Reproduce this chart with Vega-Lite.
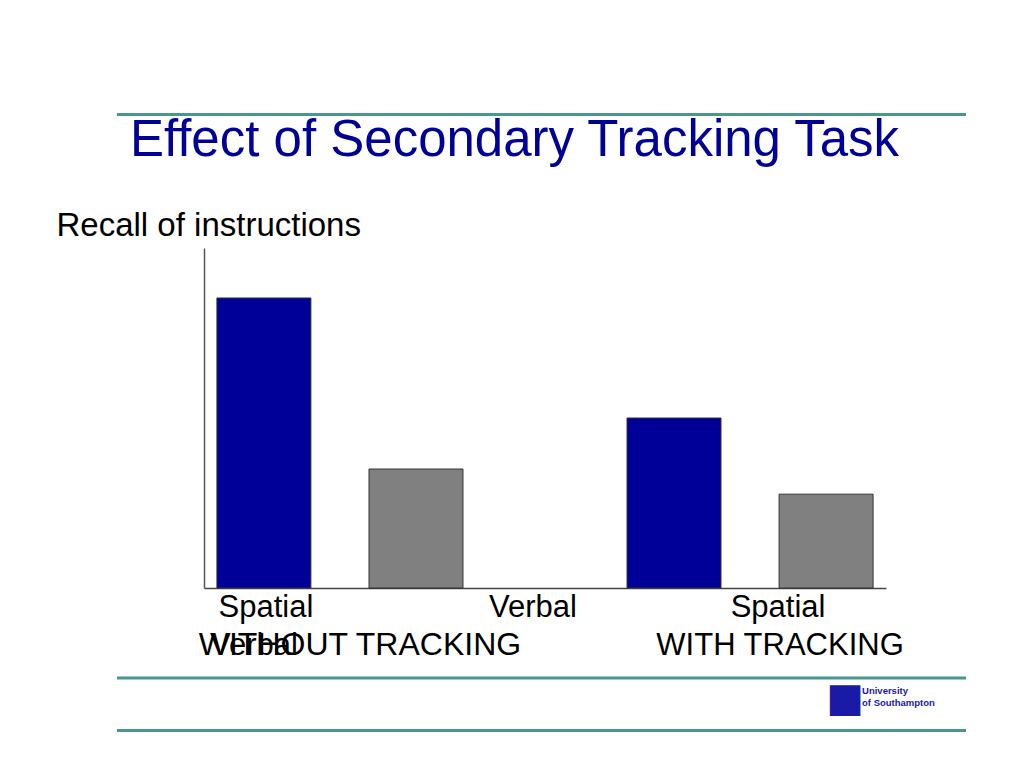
{
  "$schema": "https://vega.github.io/schema/vega-lite/v6.json",
  "width": 849,
  "height": 616,
  "autosize": {"type": "none"},
  "padding": {"left": 117, "top": 114, "right": 58, "bottom": 38},
  "background": "white",
  "config": {"view": {"stroke": null}, "font": "Liberation Sans"},
  "title": {
    "text": "Effect of Secondary Tracking Task",
    "fontSize": 51,
    "font": "Liberation Sans",
    "fontWeight": "normal",
    "color": "#000099",
    "anchor": "middle",
    "frame": "group",
    "baseline": "alphabetic",
    "offset": -44,
    "dx": -27,
    "dy": 50
  },
  "data": {
    "values": [
      {"condition": "WITHOUT TRACKING", "task": "Spatial", "recall": 85.3},
      {"condition": "WITHOUT TRACKING", "task": "Verbal", "recall": 35.0},
      {"condition": "WITH TRACKING", "task": "Spatial", "recall": 50.0},
      {"condition": "WITH TRACKING", "task": "Verbal", "recall": 27.6}
    ]
  },
  "layer": [
    {
      "mark": {"type": "bar", "stroke": "#333333", "strokeWidth": 1},
      "encoding": {
        "x": {
          "field": "condition",
          "type": "nominal",
          "sort": null,
          "scale": {
            "domain": ["WITHOUT TRACKING", "WITH TRACKING"],
            "range": [87, 769],
            "paddingInner": 0.4,
            "paddingOuter": 0.0315
          },
          "axis": {
            "orient": "bottom",
            "offset": -142,
            "labels": false,
            "ticks": false,
            "title": null,
            "domainColor": "#444444",
            "domainWidth": 1.5
          }
        },
        "xOffset": {
          "field": "task",
          "type": "nominal",
          "scale": {"domain": ["Spatial", "Verbal"], "paddingInner": 0.382, "paddingOuter": 0}
        },
        "y": {
          "field": "recall",
          "type": "quantitative",
          "scale": {"domain": [0, 100], "range": [474, 134], "nice": false},
          "axis": {
            "orient": "left",
            "offset": -87,
            "labels": false,
            "ticks": false,
            "grid": false,
            "domainColor": "#555555",
            "domainWidth": 1.5,
            "title": "Recall of instructions",
            "titleAngle": 0,
            "titleAlign": "left",
            "titleBaseline": "alphabetic",
            "titleX": -148,
            "titleY": 121,
            "titleFontSize": 33,
            "titleFontWeight": "normal",
            "titleColor": "black",
            "titleFont": "Liberation Sans"
          }
        },
        "color": {
          "field": "task",
          "type": "nominal",
          "scale": {"domain": ["Spatial", "Verbal"], "range": ["#000099", "#808080"]},
          "legend": null
        }
      }
    },
    {
      "data": {"values": [{}]},
      "mark": {"type": "rule", "color": "#4a9690", "strokeWidth": 3},
      "encoding": {"y": {"datum": 139.3}}
    },
    {
      "data": {"values": [{}]},
      "mark": {"type": "rule", "color": "#4a9690", "strokeWidth": 3},
      "encoding": {"y": {"datum": -26.5}}
    },
    {
      "data": {"values": [{}]},
      "mark": {"type": "rule", "color": "#4a9690", "strokeWidth": 3},
      "encoding": {"y": {"datum": -41.9}}
    },
    {
      "data": {"values": [{"label": "Spatial"}]},
      "mark": {"type": "text", "fontSize": 31, "font": "Liberation Sans", "align": "center", "baseline": "alphabetic", "dx": -74, "color": "black"},
      "encoding": {"x": {"datum": "WITHOUT TRACKING"}, "y": {"datum": -8.53}, "text": {"field": "label"}}
    },
    {
      "data": {"values": [{"label": "Verbal"}]},
      "mark": {"type": "text", "fontSize": 31, "font": "Liberation Sans", "align": "center", "baseline": "alphabetic", "dx": 193, "color": "black"},
      "encoding": {"x": {"datum": "WITHOUT TRACKING"}, "y": {"datum": -8.53}, "text": {"field": "label"}}
    },
    {
      "data": {"values": [{"label": "Spatial"}]},
      "mark": {"type": "text", "fontSize": 31, "font": "Liberation Sans", "align": "center", "baseline": "alphabetic", "dx": 28, "color": "black"},
      "encoding": {"x": {"datum": "WITH TRACKING"}, "y": {"datum": -8.53}, "text": {"field": "label"}}
    },
    {
      "data": {"values": [{"label": "Verbal"}]},
      "mark": {"type": "text", "fontSize": 31, "font": "Liberation Sans", "align": "center", "baseline": "alphabetic", "dx": -86, "color": "black"},
      "encoding": {"x": {"datum": "WITHOUT TRACKING"}, "y": {"datum": -19.85}, "text": {"field": "label"}}
    },
    {
      "data": {"values": [{"label": "WITHOUT TRACKING"}]},
      "mark": {"type": "text", "fontSize": 32, "font": "Liberation Sans", "align": "center", "baseline": "alphabetic", "dx": 20, "color": "black"},
      "encoding": {"x": {"datum": "WITHOUT TRACKING"}, "y": {"datum": -19.85}, "text": {"field": "label"}}
    },
    {
      "data": {"values": [{"label": "WITH TRACKING"}]},
      "mark": {"type": "text", "fontSize": 31, "font": "Liberation Sans", "align": "center", "baseline": "alphabetic", "dx": 30, "color": "black"},
      "encoding": {"x": {"datum": "WITH TRACKING"}, "y": {"datum": -19.85}, "text": {"field": "label"}}
    },
    {
      "data": {"values": [{"label": "■"}]},
      "mark": {"type": "text", "fontSize": 40, "font": "DejaVu Sans", "align": "center", "baseline": "middle", "dx": 95, "color": "#1a1aa6"},
      "encoding": {"x": {"datum": "WITH TRACKING"}, "y": {"datum": -32.65}, "text": {"field": "label"}}
    },
    {
      "data": {"values": [{"label": "University"}]},
      "mark": {"type": "text", "fontSize": 9.5, "fontWeight": "bold", "font": "Liberation Sans", "align": "left", "baseline": "alphabetic", "dx": 112, "color": "#1a1aa6"},
      "encoding": {"x": {"datum": "WITH TRACKING"}, "y": {"datum": -31.18}, "text": {"field": "label"}}
    },
    {
      "data": {"values": [{"label": "of Southampton"}]},
      "mark": {"type": "text", "fontSize": 9.5, "fontWeight": "bold", "font": "Liberation Sans", "align": "left", "baseline": "alphabetic", "dx": 112, "color": "#1a1aa6"},
      "encoding": {"x": {"datum": "WITH TRACKING"}, "y": {"datum": -34.71}, "text": {"field": "label"}}
    }
  ]
}
